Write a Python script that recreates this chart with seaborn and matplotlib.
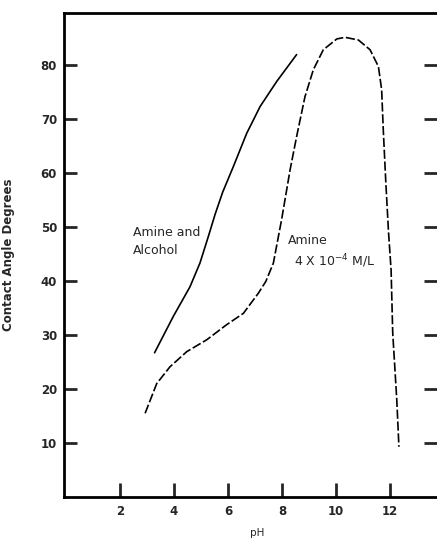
import matplotlib
matplotlib.use("Agg")
import matplotlib.pyplot as plt
import seaborn as sns
import pandas as pd

# Amine and Alcohol (solid)
ph_alcohol = [3.28, 3.97, 4.59, 4.96, 5.27, 5.52, 5.8, 6.2, 6.69, 7.19, 7.8, 8.54]
angle_alcohol = [26.7, 33.4, 38.9, 43.3, 48.2, 52.3, 56.4, 61.2, 67.3, 72.3, 76.9, 81.9]

# Amine 4x10^-4 M/L (dashed)
ph_amine = [2.93, 3.36, 3.85, 4.47, 5.21, 5.95, 6.57, 7.12, 7.4, 7.68, 7.99, 8.3,
            8.54, 8.85, 9.16, 9.53, 10.03, 10.33, 10.83, 11.26, 11.57, 11.69,
            11.75, 11.84, 11.94, 12.04, 12.1, 12.25, 12.33]
angle_amine = [15.5, 21.0, 24.1, 26.9, 29.1, 31.9, 34.0, 37.7, 39.9, 43.3, 51.5, 60.6,
               66.7, 74.1, 79.1, 82.8, 84.8, 85.1, 84.6, 82.8, 79.7, 75.4,
               68.0, 58.7, 49.4, 42.0, 30.4, 18.0, 9.3]

xticks = [2, 4, 6, 8, 10, 12]
yticks = [10, 20, 30, 40, 50, 60, 70, 80]

sns.set_style("ticks")
plt.rcParams['font.family'] = ['DejaVu Sans']

fig = plt.figure(figsize=(4.37, 5.41), dpi=100)
W, H = 437, 541
x0, x1, ytop, ybot = 64, 437, 13, 497
ax = fig.add_axes([x0 / W, (H - ybot) / H, (x1 - x0) / W, (ybot - ytop) / H])

df_a = pd.DataFrame({"pH": ph_alcohol, "angle": angle_alcohol})
df_b = pd.DataFrame({"pH": ph_amine, "angle": angle_amine})

sns.lineplot(data=df_a, x="pH", y="angle", ax=ax, color="black", lw=1.2,
             estimator=None, sort=False)
sns.lineplot(data=df_b, x="pH", y="angle", ax=ax, color="black", lw=1.2,
             estimator=None, sort=False, linestyle=(0, (5.5, 1.6)))

ax.set_xlim(-0.074, 13.74)
ax.set_ylim(0, 89.6)
ax.set_xticks(xticks)
ax.set_xticklabels([str(t) for t in xticks])
ax.set_yticks(yticks)
ax.set_yticklabels([str(t) for t in yticks])

for s in ["left", "bottom", "top"]:
    ax.spines[s].set_linewidth(2)
    ax.spines[s].set_color("black")
ax.spines["right"].set_visible(False)

ax.tick_params(axis="x", direction="in", length=10, width=2, pad=6,
               labelsize=8.5, top=False)
ax.tick_params(axis="y", direction="in", length=9.5, width=2, pad=5,
               labelsize=8.5, right=True)
for lab in ax.get_xticklabels() + ax.get_yticklabels():
    lab.set_fontweight("bold")

ax.set_xlabel("pH", fontsize=7.5)
ax.xaxis.set_label_coords((257 - 64) / 373, -31 / 484)
ax.set_ylabel("Contact Angle Degrees", fontsize=8.5, fontweight="bold")
ax.yaxis.set_label_coords(-49 / 373, 0.5)

ax.text(2.48, 47.3, "Amine and\nAlcohol", fontsize=9, ha="left", va="center",
        linespacing=1.5)
ax.text(8.2, 47.4, "Amine", fontsize=9, ha="left", va="center")
ax.text(8.45, 43.7, r"4 X 10$^{-4}$ M/L", fontsize=9, ha="left", va="center")

fig.savefig("out.png", dpi=100, facecolor="white")
